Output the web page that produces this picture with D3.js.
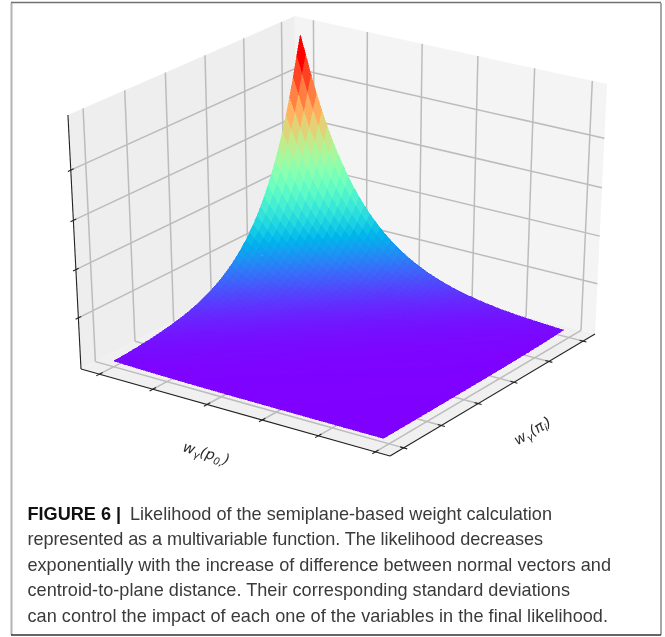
<!DOCTYPE html>
<html>
<head>
<meta charset="utf-8">
<script src="https://cdn.jsdelivr.net/npm/d3@7"></script>
<style>
  html, body { margin: 0; padding: 0; background: #fff; }
  svg { display: block; }
  .caption { font-family: "Liberation Sans", sans-serif; font-size: 18.1px; fill: #3a3a3a; }
  .axislabel { font-family: "DejaVu Sans", sans-serif; font-style: italic; font-size: 14.5px; fill: #2a2a2a; }
</style>
</head>
<body>
<svg id="chart" width="665" height="637"></svg>
<script>
// likelihood read along the two surface edges that leave the peak (50 samples each)
const pointWeights = [.99, .912, .832, .759, .693, .632, .576, .526, .480, .438, .399, .364, .332, .303, .276, .252, .230, .210, .191, .175, .159, .145, .133, .121, .110, .101, .092, .084, .076, .070, .064, .058, .053, .048, .044, .040, .037, .033, .030, .028, .025, .023, .021, .019, .018, .016, .015, .013, .012, .011];
const planeWeights = [.99, .909, .825, .750, .681, .619, .562, .511, .464, .421, .383, .348, .316, .287, .261, .237, .215, .196, .178, .161, .147, .133, .121, .110, .100, .091, .082, .075, .068, .062, .056, .051, .046, .042, .038, .035, .032, .029, .026, .024, .021, .020, .018, .016, .015, .013, .012, .011, .010, .0095];

const xTicks = [0, 0.2, 0.4, 0.6, 0.8, 1];
const yTicks = [0, 0.2, 0.4, 0.6, 0.8, 1];
const zTicks = [0.2, 0.4, 0.6, 0.8];
const surfaceXMax = 0.98;

const captionHead = "FIGURE 6 |";
const captionLines = [
  "Likelihood of the semiplane-based weight calculation",
  "represented as a multivariable function. The likelihood decreases",
  "exponentially with the increase of difference between normal vectors and",
  "centroid-to-plane distance. Their corresponding standard deviations",
  "can control the impact of each one of the variables in the final likelihood."
];
const captionStarts = [130, 27.5, 27.5, 27.5, 27.5];
const captionEnds = [552, 543, 611, 570, 608];

// camera: the box floor corners on screen, the point the verticals converge to, one top corner
const floorL = [81, 369], floorF = [390, 456], floorR = [595, 334], floorB = [297, 258];
const verticalVanish = [346, 5520];
const topL = [68, 115];

// unit square -> quad
const sx = floorL[0] - floorF[0] + floorR[0] - floorB[0];
const sy = floorL[1] - floorF[1] + floorR[1] - floorB[1];
const dx1 = floorF[0] - floorR[0], dx2 = floorB[0] - floorR[0];
const dy1 = floorF[1] - floorR[1], dy2 = floorB[1] - floorR[1];
const den = dx1 * dy2 - dx2 * dy1;
const g = (sx * dy2 - dx2 * sy) / den;
const h = (dx1 * sy - sx * dy1) / den;
const a = floorF[0] - floorL[0] + g * floorF[0], b = floorB[0] - floorL[0] + h * floorB[0];
const d = floorF[1] - floorL[1] + g * floorF[1], e = floorB[1] - floorL[1] + h * floorB[1];
const k = (topL[1] - floorL[1]) / (verticalVanish[1] - topL[1]);

function project(u, v, w) {
  const den = g * u + h * v + 1 + k * w;
  return [
    (a * u + b * v + floorL[0] + k * w * verticalVanish[0]) / den,
    (d * u + e * v + floorL[1] + k * w * verticalVanish[1]) / den
  ];
}

const x = d3.scaleLinear().domain([0, 1]).range([0.0625, 0.955]);
const y = d3.scaleLinear().domain([0, 1]).range([0.9375, 0.0625]);
const z = d3.scaleLinear().domain([0, 1]).range([0.015, 0.985]);

// matplotlib rainbow
function rainbow(t) {
  return d3.rgb(
    255 * Math.min(1, Math.abs(2 * t - 0.5)),
    255 * Math.sin(Math.PI * t),
    255 * Math.cos(Math.PI * t / 2)
  ).formatHex();
}

const svg = d3.select("#chart");
const chart = svg.append("g").style("filter", "blur(0.7px)");
const line = d3.line();

// walls and floor
const panes = [
  { fill: "#eeeeee", pts: [[0, 0, 0], [0, 1, 0], [0, 1, 1], [0, 0, 1]] },
  { fill: "#f4f4f4", pts: [[0, 1, 0], [1, 1, 0], [1, 1, 1], [0, 1, 1]] },
  { fill: "#f0f0f0", pts: [[0, 0, 0], [1, 0, 0], [1, 1, 0], [0, 1, 0]] }
];
chart.selectAll("path.pane").data(panes).join("path")
  .attr("class", "pane")
  .attr("fill", p => p.fill)
  .attr("d", p => line(p.pts.map(q => project(...q))) + "Z");

// grid
const gridLines = [];
xTicks.forEach(t => {
  gridLines.push([[x(t), 0, 0], [x(t), 1, 0]]);
  gridLines.push([[x(t), 1, 0], [x(t), 1, 1]]);
});
yTicks.forEach(t => {
  gridLines.push([[0, y(t), 0], [1, y(t), 0]]);
  gridLines.push([[0, y(t), 0], [0, y(t), 1]]);
});
zTicks.forEach(t => {
  gridLines.push([[0, 0, z(t)], [0, 1, z(t)]]);
  gridLines.push([[0, 1, z(t)], [1, 1, z(t)]]);
});
chart.selectAll("path.grid").data(gridLines).join("path")
  .attr("class", "grid")
  .attr("fill", "none")
  .attr("stroke", "#bcbcbc")
  .attr("stroke-width", 1.5)
  .attr("d", l => line(l.map(q => project(...q))));

// surface cells, back corner first
const n = pointWeights.length, m = planeWeights.length;
const cells = [];
for (let i = 0; i < n - 1; i++) {
  for (let j = 0; j < m - 1; j++) {
    const corner = (p, q) => [x(surfaceXMax * p / (n - 1)), y(q / (m - 1)), z(pointWeights[p] * planeWeights[q])];
    const level = (pointWeights[i] * planeWeights[j] + pointWeights[i + 1] * planeWeights[j]
      + pointWeights[i + 1] * planeWeights[j + 1] + pointWeights[i] * planeWeights[j + 1]) / 4;
    cells.push({ level, pts: [corner(i, j), corner(i + 1, j), corner(i + 1, j + 1), corner(i, j + 1)] });
  }
}
const color = d3.scaleSequential(rainbow).domain(d3.extent(cells, c => c.level));
chart.selectAll("path.cell").data(cells).join("path")
  .attr("class", "cell")
  .attr("shape-rendering", "crispEdges")
  .attr("fill", c => color(c.level))
  .attr("stroke", c => color(c.level))
  .attr("stroke-width", 0.5)
  .attr("d", c => line(c.pts.map(q => project(...q))) + "Z");

// axis lines and ticks
const axisLines = [
  [[0, 0, 0], [0, 0, 1]],
  [[0, 0, 0], [1, 0, 0]],
  [[1, 0, 0], [1, 1, 0]]
];
zTicks.forEach(t => axisLines.push([[0, -0.012, z(t)], [0, 0.012, z(t)]]));
xTicks.forEach(t => axisLines.push([[x(t), -0.014, 0], [x(t), 0.014, 0]]));
yTicks.forEach(t => axisLines.push([[1 - 0.011, y(t), 0], [1 + 0.011, y(t), 0]]));
chart.selectAll("path.axis").data(axisLines).join("path")
  .attr("class", "axis")
  .attr("fill", "none")
  .attr("stroke", "#222")
  .attr("stroke-width", 1.1)
  .attr("d", l => line(l.map(q => project(...q))));

// axis labels
function axisLabel(px, py, angle, head, sub) {
  const t = chart.append("text")
    .attr("class", "axislabel")
    .attr("text-anchor", "middle")
    .attr("transform", `translate(${px},${py}) rotate(${angle})`);
  t.append("tspan").text("w");
  t.append("tspan").attr("dy", 3).attr("font-size", 10).text("γ");
  t.append("tspan").attr("dy", -3).text(head);
  t.append("tspan").attr("dy", 3).attr("font-size", 10).text(sub);
  t.append("tspan").attr("dy", -3).text(")");
}
axisLabel(205, 458, 17, "(p", "0,");
axisLabel(535, 435, -31, "(π", "i");

// frame of the figure panel
const frame = [
  { from: [11.5, 3], to: [11.5, 635], color: "#b4b4b4", width: 2 },
  { from: [11, 2.5], to: [661, 2.5], color: "#707070", width: 1.5 },
  { from: [661, 3], to: [661, 635], color: "#8a8a8a", width: 1.5 },
  { from: [11, 635], to: [661, 635], color: "#333333", width: 1.5 }
];
svg.selectAll("line.frame").data(frame).join("line")
  .attr("class", "frame")
  .attr("x1", f => f.from[0]).attr("y1", f => f.from[1])
  .attr("x2", f => f.to[0]).attr("y2", f => f.to[1])
  .attr("stroke", f => f.color)
  .attr("stroke-width", f => f.width);

// caption
const caption = svg.append("g").style("filter", "blur(0.4px)");
caption.append("text").attr("class", "caption")
  .attr("x", 27.5).attr("y", 520)
  .attr("font-weight", "bold")
  .style("fill", "#111")
  .text(captionHead);
captionLines.forEach((txt, i) => {
  caption.append("text").attr("class", "caption")
    .attr("x", captionStarts[i]).attr("y", 520 + i * 25.4)
    .attr("textLength", captionEnds[i] - captionStarts[i])
    .attr("lengthAdjust", "spacing")
    .text(txt);
});
</script>
</body>
</html>
